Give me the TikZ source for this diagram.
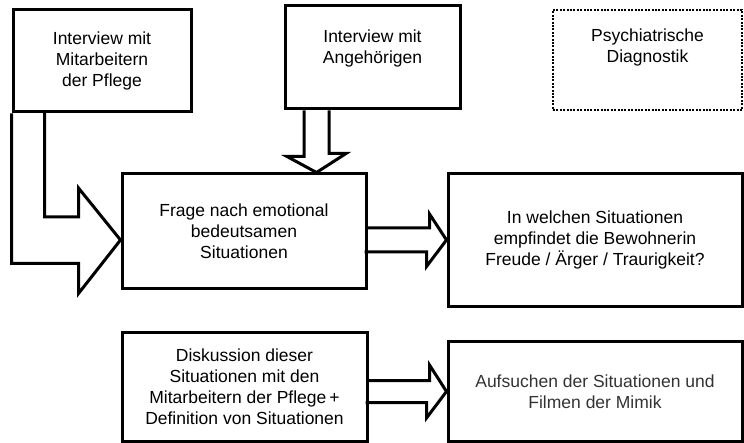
\documentclass[tikz,border=0pt]{standalone}
\usepackage{fontspec}
\setmainfont{Liberation Sans}
\usetikzlibrary{positioning, calc}

\begin{document}
\begin{tikzpicture}[x=1pt, y=-1pt,
    kasten/.style={draw, line width=3pt, align=center, inner sep=0pt,
        font=\fontsize{17.5}{21}\selectfont},
    pfeil/.style={line width=3pt, miter limit=20}]
    \useasboundingbox (0,0) rectangle (744,443);

    \node[kasten, minimum width=178pt, minimum height=102pt] (mitarb) at (102,61) {Interview mit\\Mitarbeitern\\der Pflege};
    \node[kasten, minimum width=175pt, minimum height=103pt, text depth=22pt] (angeh) at (372.5,57.5) {Interview mit\\Angehörigen};
    \node[kasten, line width=2.6pt, dash pattern=on 2pt off 1.4pt, minimum width=189pt, minimum height=100pt, text depth=28pt] (psych) at (647.5,60) {Psychiatrische\\Diagnostik};

    \node[kasten, minimum width=244pt, minimum height=115pt] (frage) at (244,231.5) {Frage nach emotional\\bedeutsamen\\Situationen};
    \node[kasten, minimum width=294pt, minimum height=133pt] (bewohn) at (595,240) {In welchen Situationen\\empfindet die Bewohnerin\\Freude / Ärger / Traurigkeit?};

    \node[kasten, minimum width=245pt, minimum height=108pt] (diskus) at (244.5,387) {Diskussion dieser\\Situationen mit den\\Mitarbeitern der Pflege\,+\\Definition von Situationen};
    \node[kasten, text=black!80, minimum width=294pt, minimum height=99pt] (filmen) at (595,391.5) {Aufsuchen der Situationen und\\Filmen der Mimik};

    % Blockpfeile
    \draw[pfeil] (mitarb.south west) -- ++(0,150) -- ++(67,0) -- ++(0,30)
        -- ([yshift=-8.5pt]frage.west) -- ++(-42,-52) -- ++(0,29) -- ++(-34,0) -- ++(0,-105);
    \draw[pfeil] ([xshift=-68.5pt]angeh.south) -- ++(0,46) -- ++(-17,0)
        -- ([xshift=72.5pt]frage.north) -- ++(29.5,-19) -- ++(-17,0) -- ([xshift=-43.5pt]angeh.south);
    \draw[pfeil] (frage.east |- bewohn.west) ++(0,-12) -- ++(62,0) -- ++(0,-14)
        -- (bewohn.west) -- ++(-20,26.5) -- ++(0,-14.5) -- ++(-62,0);
    \draw[pfeil] (diskus.east |- filmen.west) ++(0,-11) -- ++(61,0) -- ++(0,-15.5)
        -- (filmen.west) -- ++(-20,26.5) -- ++(0,-15.5) -- ++(-61,0);
\end{tikzpicture}
\end{document}
